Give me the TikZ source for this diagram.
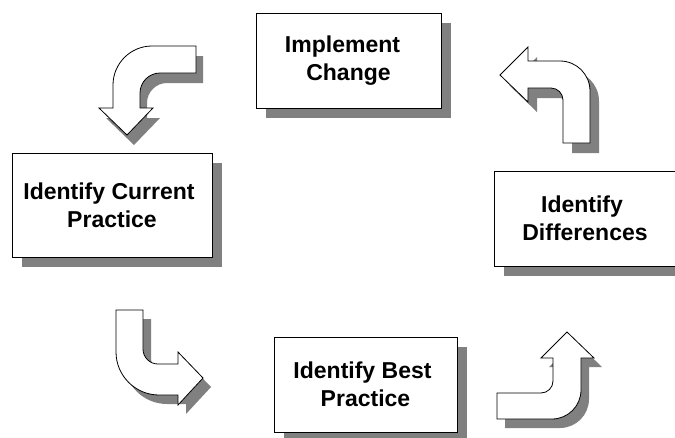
\documentclass[tikz,border=0pt]{standalone}
\usepackage{fontspec}
\setmainfont{Liberation Sans}
\usetikzlibrary{shadows}
\definecolor{shadowgray}{RGB}{128,128,128}
\tikzset{
  box/.style={draw=black, line width=1pt, fill=white, inner sep=0pt, align=center,
    font=\bfseries\fontsize{23}{28}\selectfont,
    drop shadow={shadow xshift=10pt, shadow yshift=-10pt, fill=shadowgray, opacity=1}},
  blockarrow/.style={draw=black, line width=0.8pt, fill=white, line join=miter},
  arrowshadow/.style={fill=shadowgray}
}
\newcommand\pathArrowA{(196,46) -- (152,46) .. controls (130.5,46) and (113,63.5) .. (113,85) -- (113,108) -- (99,108) -- (127,135) -- (153,108) -- (140,108) -- (140,93) .. controls (140,82) and (149,73) .. (160,73) -- (196,73) -- cycle}
\newcommand\pathArrowB{(500,75) -- (528,47) -- (528,61) -- (560,61) .. controls (576.6,61) and (590,74.4) .. (590,91) -- (590,143) -- (563,143) -- (563,100) .. controls (563,93.4) and (557.6,88) .. (551,88) -- (528,88) -- (528,102) -- cycle}
\newcommand\pathArrowC{(116,310) -- (143,310) -- (143,349) .. controls (143,357.3) and (149.7,364) .. (158,364) -- (178,364) -- (178,352) -- (203,378) -- (178,405) -- (178,395) -- (159,395) .. controls (135.3,395) and (116,375.7) .. (116,352) -- cycle}
\newcommand\pathArrowD{(497,393) -- (541,393) .. controls (547.6,393) and (553,387.6) .. (553,381) -- (553,358) -- (541,358) -- (567,332) -- (594,358) -- (581,358) -- (581,390) .. controls (581,406) and (568,419) .. (552,419) -- (497,419) -- cycle}
\begin{document}
\begin{tikzpicture}[x=1pt,y=-1pt]
\path[use as bounding box, clip] (0,0) rectangle (675,437);
\fill[white] (0,0) rectangle (675,437);
% boxes
\node[box, minimum width=185pt, minimum height=95pt] (implement) at (348.5,60.5) {Implement\hspace*{12pt}\\Change};
\node[box, minimum width=200pt, minimum height=104pt] (current) at (112,205) {Identify Current\hspace*{6pt}\\Practice};
\node[box, minimum width=182pt, minimum height=95pt] (differences) at (585,218.5) {Identify\hspace*{6pt}\\Differences};
\node[box, minimum width=183pt, minimum height=95pt] (best) at (365.5,384.5) {Identify Best\hspace*{6pt}\\Practice};
% curved block arrows
\fill[arrowshadow, shift={(7,10)}] \pathArrowA;
\draw[blockarrow] \pathArrowA;
\fill[arrowshadow, shift={(9,10)}] \pathArrowB;
\draw[blockarrow] \pathArrowB;
\fill[arrowshadow, shift={(8,9)}] \pathArrowC;
\draw[blockarrow] \pathArrowC;
\fill[arrowshadow, shift={(8,9)}] \pathArrowD;
\draw[blockarrow] \pathArrowD;
\end{tikzpicture}
\end{document}
